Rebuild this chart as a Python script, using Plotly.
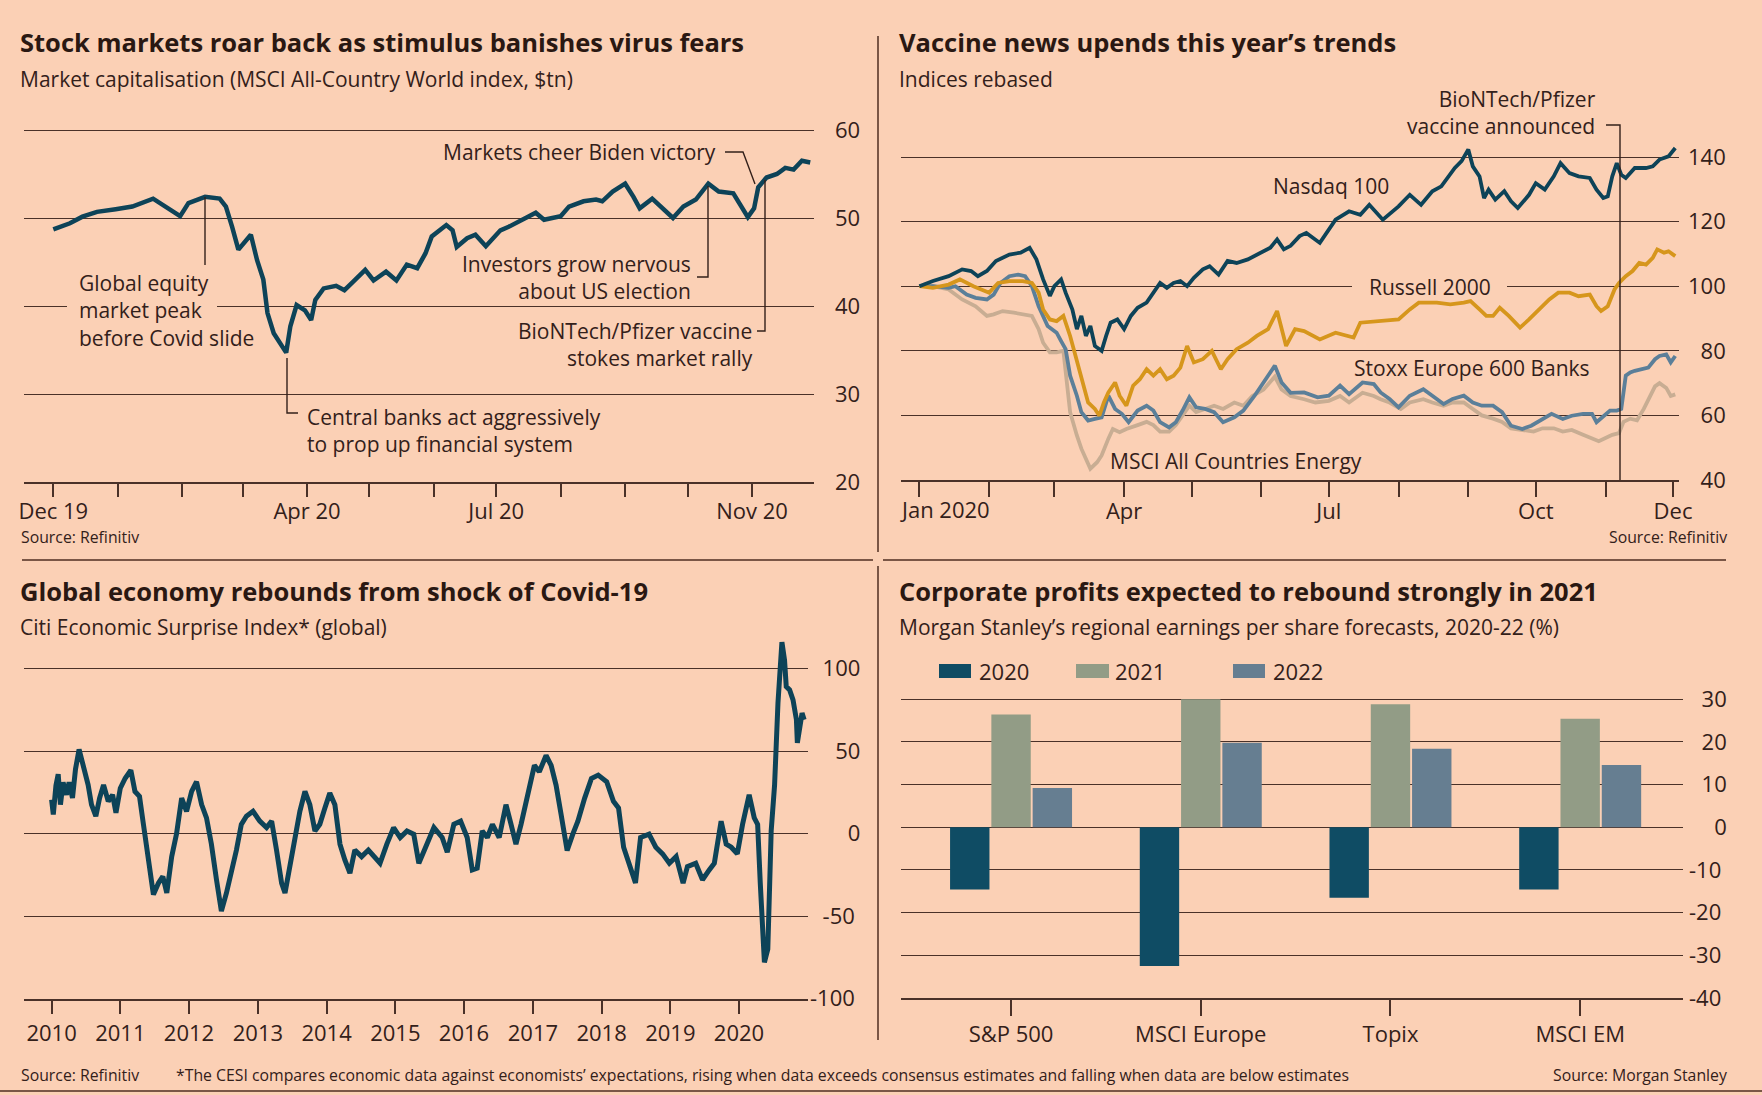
import pandas as pd
import plotly.graph_objects as go

W, H = 1762, 1095
BG = "#fbd0b5"
INK = "#33201a"
GRID = "#4a3128"
RULE = "#7a5646"
TEAL = "#0d4358"
GOLD = "#d6961c"
SLATE = "#5b7f99"
SAND = "#c8ad93"
FONT = "Open Sans"

# --- panel 1: MSCI ACWI market cap ($tn)
mkt_dates = [
    "2019-12-01", "2019-12-09", "2019-12-15", "2019-12-22", "2019-12-31",
    "2020-01-08", "2020-01-18", "2020-01-24", "2020-01-31",
    "2020-02-04", "2020-02-12", "2020-02-19", "2020-02-22", "2020-02-25", "2020-02-28",
    "2020-03-05", "2020-03-08", "2020-03-11", "2020-03-13", "2020-03-16", "2020-03-22",
    "2020-03-24", "2020-03-27", "2020-03-31",
    "2020-04-03", "2020-04-05", "2020-04-09", "2020-04-15", "2020-04-19", "2020-04-23", "2020-04-29",
    "2020-05-03", "2020-05-09", "2020-05-14", "2020-05-19", "2020-05-24", "2020-05-28", "2020-05-31",
    "2020-06-07", "2020-06-10", "2020-06-12", "2020-06-17", "2020-06-21", "2020-06-26",
    "2020-07-03", "2020-07-07", "2020-07-14", "2020-07-20", "2020-07-24",
    "2020-08-01", "2020-08-05", "2020-08-12", "2020-08-18", "2020-08-21", "2020-08-26",
    "2020-09-01", "2020-09-05", "2020-09-08", "2020-09-14", "2020-09-19", "2020-09-24", "2020-09-29",
    "2020-10-05", "2020-10-11", "2020-10-16", "2020-10-23", "2020-10-27", "2020-10-30",
    "2020-11-02", "2020-11-04", "2020-11-08", "2020-11-13", "2020-11-17", "2020-11-21",
    "2020-11-25", "2020-11-29",
]
mkt_cap = [
    48.7, 49.4, 50.15, 50.7, 51.0,
    51.3, 52.2, 51.3, 50.2,
    51.7, 52.4, 52.2, 51.3, 49.0, 46.4,
    48.1, 45.2, 43.0, 39.2, 36.9, 34.7,
    37.7, 40.1, 39.5,
    38.4, 40.7, 42.0, 42.3, 41.8, 42.7, 44.1,
    42.9, 43.9, 42.9, 44.7, 44.3, 46.0, 47.9,
    49.2, 48.6, 46.7, 47.7, 48.1, 46.8,
    48.6, 49.0, 49.8, 50.6, 49.8,
    50.2, 51.3, 51.9, 52.1, 51.9, 53.0,
    53.9, 52.4, 51.1, 52.2, 51.1, 50.0, 51.3,
    52.1, 53.9, 53.0, 52.8, 51.3, 50.1,
    51.1, 53.5, 54.6, 55.0, 55.7, 55.5,
    56.5, 56.3,
]
mkt_ticks = ["2019-12-01", "2020-01-01", "2020-02-01", "2020-03-01", "2020-04-01", "2020-05-01",
             "2020-06-01", "2020-07-01", "2020-08-01", "2020-09-01", "2020-10-01", "2020-11-01"]
mkt_tick_text = ["Dec 19", "", "", "", "Apr 20", "", "", "Jul 20", "", "", "", "Nov 20"]
mkt_y_ticks = [20, 30, 40, 50, 60]

# --- panel 2: indices rebased
nasdaq_dates = [
    "2020-01-01", "2020-01-07", "2020-01-14", "2020-01-20", "2020-01-24", "2020-01-27", "2020-01-31",
    "2020-02-04", "2020-02-10", "2020-02-15", "2020-02-19", "2020-02-22", "2020-02-25", "2020-02-28",
    "2020-03-01", "2020-03-04", "2020-03-06", "2020-03-09", "2020-03-11", "2020-03-13", "2020-03-15",
    "2020-03-17", "2020-03-19", "2020-03-22", "2020-03-24", "2020-03-26", "2020-03-29",
    "2020-04-01", "2020-04-04", "2020-04-07", "2020-04-11", "2020-04-14", "2020-04-17", "2020-04-20",
    "2020-04-23", "2020-04-26", "2020-04-29",
    "2020-05-02", "2020-05-06", "2020-05-09", "2020-05-13", "2020-05-17", "2020-05-21", "2020-05-26",
    "2020-05-30",
    "2020-06-05", "2020-06-08", "2020-06-11", "2020-06-14", "2020-06-18", "2020-06-21", "2020-06-27",
    "2020-07-04", "2020-07-10", "2020-07-15", "2020-07-19", "2020-07-25",
    "2020-08-01", "2020-08-06", "2020-08-11", "2020-08-16", "2020-08-20", "2020-08-26", "2020-08-29",
    "2020-09-01", "2020-09-03", "2020-09-06", "2020-09-08", "2020-09-10", "2020-09-13", "2020-09-17",
    "2020-09-20", "2020-09-23", "2020-09-28",
    "2020-10-01", "2020-10-05", "2020-10-09", "2020-10-12", "2020-10-16", "2020-10-20", "2020-10-25",
    "2020-10-28", "2020-10-31",
    "2020-11-02", "2020-11-04", "2020-11-06", "2020-11-08", "2020-11-10", "2020-11-14", "2020-11-19",
    "2020-11-22", "2020-11-25", "2020-11-29",
    "2020-12-02",
]
nasdaq = [
    100, 101.6, 103.1, 105.2, 104.7, 103.1, 104.7,
    107.8, 109.8, 110.4, 111.9, 108.3, 102.1, 97,
    100, 102.1, 98, 92.8, 86.7, 90.8, 84.6,
    87.7, 81.5, 80, 84.6, 88.7, 89.7,
    86.7, 90.8, 93.3, 94.9, 98, 101, 99.5,
    101, 101.6, 100,
    102.6, 105.2, 106.2, 103.6, 107.8, 107.2, 108.3,
    109.8,
    111.9, 114.5, 111.4, 112.5, 115.5, 116.5, 113.4,
    120.6, 123.2, 122.1, 125.2, 120.6,
    124.7, 128.3, 125.2, 129.4, 130.9, 136.6, 138.7,
    142.3, 137.1, 134, 127.3, 129.9, 126.8, 129.4,
    126.3, 124.2, 128.3,
    131.9, 129.9, 134, 138.1, 135, 134, 133.5,
    129.9, 127.3,
    127.8, 134, 138.1, 134.5, 133.5, 136.6, 136.6,
    137.1, 139.2, 140.2,
    142.8,
]

russell_dates = [
    "2020-01-01", "2020-01-07", "2020-01-14", "2020-01-19", "2020-01-25", "2020-01-29",
    "2020-02-01", "2020-02-05", "2020-02-10", "2020-02-16", "2020-02-20", "2020-02-23", "2020-02-25",
    "2020-02-28",
    "2020-03-02", "2020-03-05", "2020-03-08", "2020-03-10", "2020-03-12", "2020-03-14", "2020-03-16",
    "2020-03-19", "2020-03-21", "2020-03-23", "2020-03-25", "2020-03-28", "2020-03-30",
    "2020-04-02", "2020-04-05", "2020-04-08", "2020-04-11", "2020-04-14", "2020-04-17", "2020-04-20",
    "2020-04-23", "2020-04-26", "2020-04-29",
    "2020-05-02", "2020-05-06", "2020-05-10", "2020-05-14", "2020-05-17", "2020-05-21", "2020-05-26",
    "2020-05-30",
    "2020-06-04", "2020-06-08", "2020-06-12", "2020-06-16", "2020-06-20", "2020-06-27",
    "2020-07-04", "2020-07-12", "2020-07-15", "2020-07-22", "2020-07-28",
    "2020-08-01", "2020-08-06", "2020-08-10", "2020-08-18", "2020-08-24", "2020-08-30",
    "2020-09-02", "2020-09-06", "2020-09-09", "2020-09-12", "2020-09-15", "2020-09-19", "2020-09-24",
    "2020-09-28",
    "2020-10-02", "2020-10-07", "2020-10-11", "2020-10-16", "2020-10-20", "2020-10-25", "2020-10-28",
    "2020-10-30",
    "2020-11-02", "2020-11-05", "2020-11-07", "2020-11-10", "2020-11-13", "2020-11-16", "2020-11-19",
    "2020-11-22", "2020-11-24", "2020-11-27", "2020-11-29",
    "2020-12-02",
]
russell = [
    100, 99.5, 100.5, 102.1, 100, 99,
    98, 101, 101.6, 101.6, 101, 98, 92.8,
    89.7,
    89.2, 90.8, 84.6, 79.5, 74.3, 69.2, 64,
    62, 59.9, 64, 67.1, 70.2, 66.1,
    63, 69.2, 71.2, 74.3, 72.3, 74.3, 71.2,
    72.3, 74.8, 81.5,
    76.4, 77.4, 80, 74.3, 77.4, 80.5, 82.5,
    84.6,
    86.7, 92.3, 81.5, 86.7, 86.1, 83.5,
    85.6, 84.1, 88.7, 89.2, 89.7,
    89.7, 92.8, 94.9, 94.9, 94.4, 94.9,
    95.4, 92.8, 90.8, 90.8, 93.3, 90.8, 87.2,
    89.7,
    92.3, 95.9, 98, 98, 96.9, 97.4, 93.8,
    92.3,
    93.8, 99, 101, 103.1, 104.7, 107.2, 106.7,
    108.8, 111.4, 110.4, 110.8,
    109.3,
]

banks_dates = [
    "2020-01-01", "2020-01-07", "2020-01-14", "2020-01-17", "2020-01-22", "2020-01-26", "2020-01-31",
    "2020-02-03", "2020-02-06", "2020-02-10", "2020-02-14", "2020-02-17", "2020-02-20", "2020-02-23",
    "2020-02-27",
    "2020-03-02", "2020-03-04", "2020-03-06", "2020-03-08", "2020-03-11", "2020-03-13", "2020-03-16",
    "2020-03-19", "2020-03-22", "2020-03-25", "2020-03-28", "2020-03-31",
    "2020-04-03", "2020-04-07", "2020-04-11", "2020-04-14", "2020-04-17", "2020-04-21", "2020-04-24",
    "2020-04-27", "2020-04-30",
    "2020-05-03", "2020-05-07", "2020-05-11", "2020-05-15", "2020-05-20", "2020-05-24", "2020-05-29",
    "2020-06-02", "2020-06-07", "2020-06-10", "2020-06-14", "2020-06-20", "2020-06-26",
    "2020-07-01", "2020-07-06", "2020-07-10", "2020-07-16", "2020-07-21", "2020-07-24", "2020-07-28",
    "2020-08-01", "2020-08-06", "2020-08-12", "2020-08-16", "2020-08-21", "2020-08-25", "2020-08-30",
    "2020-09-03", "2020-09-07", "2020-09-12", "2020-09-16", "2020-09-20", "2020-09-25", "2020-09-29",
    "2020-10-04", "2020-10-08", "2020-10-13", "2020-10-17", "2020-10-22", "2020-10-26", "2020-10-28",
    "2020-10-31",
    "2020-11-03", "2020-11-06", "2020-11-08", "2020-11-10", "2020-11-12", "2020-11-14", "2020-11-17",
    "2020-11-20", "2020-11-23", "2020-11-25", "2020-11-28", "2020-11-30",
    "2020-12-02",
]
banks = [
    100, 100, 99.5, 100, 97.4, 96.4, 95.9,
    97.4, 101, 103.1, 103.6, 103.1, 100, 93.8,
    87.7,
    85.6, 83, 80.5, 72.3, 66.1, 61, 58.4,
    58.9, 59.4, 66.1, 62, 60.5,
    57.9, 61.5, 63, 61.5, 57.9, 56.3, 57.9,
    61.5, 65.6,
    62.5, 62, 61, 57.9, 59.4, 61.5, 66.1,
    70.2, 75.4, 70.2, 67, 67.1, 65.6,
    66.1, 69.2, 66.6, 70.2, 69.7, 67.1, 65.1,
    62.5, 66.1, 68.1, 66.1, 63.5, 65.1, 66.1,
    64, 63, 63, 61, 56.8, 55.8, 56.8,
    58.9, 60.5, 58.9, 59.9, 60.5, 60.5, 57.9,
    59.9,
    61.5, 61.5, 62, 72.3, 73.3, 73.8, 74.3,
    74.8, 77.4, 78.4, 78.9, 76.4,
    78.4,
]

energy_dates = [
    "2020-01-01", "2020-01-07", "2020-01-14", "2020-01-20", "2020-01-26", "2020-01-31",
    "2020-02-03", "2020-02-07", "2020-02-12", "2020-02-16", "2020-02-20", "2020-02-23", "2020-02-25",
    "2020-02-28",
    "2020-03-02", "2020-03-05", "2020-03-06", "2020-03-08", "2020-03-11", "2020-03-13", "2020-03-15",
    "2020-03-17", "2020-03-20", "2020-03-22", "2020-03-25", "2020-03-27", "2020-03-30",
    "2020-04-02", "2020-04-07", "2020-04-11", "2020-04-14", "2020-04-17", "2020-04-21", "2020-04-24",
    "2020-04-27", "2020-04-30",
    "2020-05-03", "2020-05-07", "2020-05-11", "2020-05-15", "2020-05-20", "2020-05-24", "2020-05-28",
    "2020-06-02", "2020-06-07", "2020-06-10", "2020-06-14", "2020-06-20", "2020-06-25",
    "2020-07-01", "2020-07-06", "2020-07-10", "2020-07-16", "2020-07-21", "2020-07-24", "2020-07-28",
    "2020-08-02", "2020-08-06", "2020-08-12", "2020-08-16", "2020-08-21", "2020-08-25", "2020-08-30",
    "2020-09-03", "2020-09-07", "2020-09-12", "2020-09-16", "2020-09-20", "2020-09-25", "2020-09-30",
    "2020-10-04", "2020-10-09", "2020-10-13", "2020-10-17", "2020-10-22", "2020-10-26", "2020-10-29",
    "2020-11-01", "2020-11-04", "2020-11-07", "2020-11-09", "2020-11-12", "2020-11-15", "2020-11-18",
    "2020-11-21", "2020-11-23", "2020-11-25", "2020-11-28", "2020-11-30",
    "2020-12-02",
]
energy = [
    100, 100, 99, 95.9, 93.8, 90.8,
    91.3, 92.3, 91.8, 91.3, 90.8, 86.7, 82.5,
    79.5,
    79.5, 80, 74.3, 61, 53.8, 49.7, 46.6,
    43.5, 45.5, 47.6, 52.8, 55.8, 54.8,
    55.8, 57, 58, 57, 55, 55, 57,
    60, 63,
    61, 62, 63, 62, 64, 63, 66,
    68, 72, 68, 66, 65, 64,
    64.5, 66, 64, 67, 66, 65, 64,
    62, 64, 65, 64, 63, 64, 64,
    62, 60, 59, 58, 56, 55.5, 55,
    56, 56, 55, 55.5, 54, 53, 52,
    53, 54, 54.5, 58, 59, 58.5, 62,
    66, 69, 70, 68.5, 66,
    66.5,
]
idx_ticks = ["2020-01-01", "2020-02-01", "2020-03-01", "2020-04-01", "2020-05-01", "2020-06-01",
             "2020-07-01", "2020-08-01", "2020-09-01", "2020-10-01", "2020-11-01", "2020-12-01"]
idx_tick_text = ["", "", "", "Apr", "", "", "Jul", "", "", "Oct", "", "Dec"]
idx_y_ticks = [40, 60, 80, 100, 120, 140]

# --- panel 3: Citi Economic Surprise Index (global)
cesi_dates = [
    "2010-01-01", "2010-01-10", "2010-01-24", "2010-02-05", "2010-02-17", "2010-03-03", "2010-03-21",
    "2010-04-04", "2010-04-22", "2010-05-08", "2010-05-27", "2010-06-18", "2010-07-14", "2010-08-01",
    "2010-08-24", "2010-09-13", "2010-10-04", "2010-10-29", "2010-11-21", "2010-12-09",
    "2011-01-01", "2011-01-27", "2011-02-26", "2011-03-20", "2011-04-13", "2011-05-04", "2011-05-22",
    "2011-06-12", "2011-06-26", "2011-07-23", "2011-08-15", "2011-09-05", "2011-10-01", "2011-10-27",
    "2011-11-23", "2011-12-19",
    "2012-01-15", "2012-02-10", "2012-03-08", "2012-04-03", "2012-04-29", "2012-05-26", "2012-06-21",
    "2012-07-18", "2012-08-13", "2012-09-09", "2012-10-05", "2012-11-01", "2012-12-06",
    "2013-01-11", "2013-02-16", "2013-03-15", "2013-04-10", "2013-05-07", "2013-05-25", "2013-06-20",
    "2013-07-17", "2013-08-12", "2013-09-08", "2013-10-04", "2013-10-31", "2013-11-26", "2013-12-23",
    "2014-01-18", "2014-02-14", "2014-03-13", "2014-04-08", "2014-05-05", "2014-05-31", "2014-07-06",
    "2014-08-11", "2014-09-07", "2014-10-12", "2014-11-17", "2014-12-23",
    "2015-01-27", "2015-03-04", "2015-04-09", "2015-05-06", "2015-06-11", "2015-07-25", "2015-09-07",
    "2015-10-04", "2015-11-08", "2015-12-14",
    "2016-01-18", "2016-02-14", "2016-03-11", "2016-04-07", "2016-05-04", "2016-05-31", "2016-07-06",
    "2016-08-11", "2016-09-07", "2016-10-03", "2016-10-30", "2016-12-05",
    "2017-01-09", "2017-02-04", "2017-03-12", "2017-04-08", "2017-05-04", "2017-05-31", "2017-07-02",
    "2017-08-01", "2017-08-28", "2017-10-03", "2017-11-08", "2017-12-14",
    "2018-01-28", "2018-03-05", "2018-04-01", "2018-04-28", "2018-06-03", "2018-06-30", "2018-07-27",
    "2018-09-10", "2018-10-16", "2018-11-21", "2018-12-27",
    "2019-02-01", "2019-03-10", "2019-04-02", "2019-05-16", "2019-06-21", "2019-07-27", "2019-08-23",
    "2019-09-28", "2019-10-25", "2019-11-21", "2019-12-23",
    "2020-01-20", "2020-02-24", "2020-03-22", "2020-04-09", "2020-04-23", "2020-05-06", "2020-05-15",
    "2020-06-02", "2020-06-11", "2020-06-20", "2020-07-08", "2020-07-26", "2020-08-16", "2020-08-30",
    "2020-09-08", "2020-09-26", "2020-10-14", "2020-11-01", "2020-11-06", "2020-11-18", "2020-12-01",
    "2020-12-12",
]
cesi = [
    20.5, 11.5, 29, 36, 17.5, 31, 23.5,
    31, 21.5, 39, 51, 41, 29.5, 17.5,
    10.5, 21.5, 29.5, 19.5, 23.5, 12.5,
    27.5, 33.5, 38.4, 25.5, 22.5, 5.5, -8.3,
    -28, -37, -30, -26, -36, -14, 0,
    21.5, 13.5,
    25.5, 31.4, 17.5, 9.5, -6.4, -28, -47,
    -36, -24, -10, 5.6, 10.5, 13.5,
    7.5, 3.6, 7.5, -10, -30, -36, -20,
    -4.4, 13.5, 25.5, 17.5, 1.6, 5.6, 15.5,
    24.5, 17.5, -6.4, -16, -24, -10, -14,
    -10, -14, -18, -6.4, 3.6,
    -2.4, 1.6, -0.4, -18, -8.3, 3.6, -2.4,
    -11.3, 5.6, 7.5,
    -2.4, -22, -21, 1.6, -2.4, 5.6, -2.4,
    17.5, 5.6, -6.4, 5.6, 23.5,
    41.3, 37.4, 47.3, 41.3, 29.4, 11.5, -10.3,
    -0.4, 7.5, 21.5, 33.4, 35.4,
    31.4, 19.5, 15.5, -8.3, -22, -30, -2.4,
    -0.4, -8.3, -12.3, -18,
    -14, -30, -20, -18, -28, -22, -18,
    7.5, -6.4, -8.3, -12.3,
    5.6, 23.5, 9.5, 5.6, -30, -60, -78,
    -70, -40, 1.6, 29.4, 79, 116, 105,
    89, 87, 81, 69, 55, 65, 73,
    69,
]
cesi_ticks = [f"{y}-01-01" for y in range(2010, 2021)]
cesi_tick_text = [str(y) for y in range(2010, 2021)]
cesi_y_ticks = [-100, -50, 0, 50, 100]

# --- panel 4: EPS forecasts (%)
regions = ["S&P 500", "MSCI Europe", "Topix", "MSCI EM"]
eps_2020 = [-14.6, -32.5, -16.5, -14.6]
eps_2021 = [26.4, 30.0, 28.8, 25.4]
eps_2022 = [9.2, 19.8, 18.4, 14.6]
eps_y_ticks = [-40, -30, -20, -10, 0, 10, 20, 30]

for a, b in [(mkt_dates, mkt_cap), (nasdaq_dates, nasdaq), (russell_dates, russell),
             (banks_dates, banks), (energy_dates, energy), (cesi_dates, cesi)]:
    assert len(a) == len(b), (len(a), len(b))


def px(x):
    return x / W


def py(y):
    return 1 - y / H


def ydomain(r0, r1, va, pa, vb, pb):
    s = (pb - pa) / (vb - va)
    return [py(pa + (r0 - va) * s), py(pa + (r1 - va) * s)]


def xdates(p0, p1, da, pa, db, pb):
    ta, tb = pd.Timestamp(da), pd.Timestamp(db)
    step = (tb - ta) / (pb - pa)
    return [str(ta + (p0 - pa) * step), str(ta + (p1 - pa) * step)]


def padded(vals):
    labels = [str(v) for v in vals]
    n = max(len(s) for s in labels)
    return ["\u2007" * (n - len(s)) + s for s in labels]


fig = go.Figure()

fig.add_trace(go.Scatter(x=mkt_dates, y=mkt_cap, mode="lines", xaxis="x", yaxis="y",
                         line=dict(color=TEAL, width=4.5)))

for d, v, c in [(energy_dates, energy, SAND), (banks_dates, banks, SLATE),
                (russell_dates, russell, GOLD), (nasdaq_dates, nasdaq, TEAL)]:
    fig.add_trace(go.Scatter(x=d, y=v, mode="lines", xaxis="x2", yaxis="y2",
                             line=dict(color=c, width=3.8)))

fig.add_trace(go.Scatter(x=cesi_dates, y=cesi, mode="lines", xaxis="x3", yaxis="y3",
                         line=dict(color=TEAL, width=5)))

for vals, c in [(eps_2020, "#0f4c64"), (eps_2021, "#929c86"), (eps_2022, "#667e91")]:
    fig.add_trace(go.Bar(x=regions, y=vals, xaxis="x4", yaxis="y4", marker=dict(color=c, line=dict(width=0))))

TICK = 22
tickfont = dict(family=FONT, size=TICK, color=INK)
xbase = dict(showgrid=False, zeroline=False, showline=True, linecolor=GRID, linewidth=1.5,
             ticks="outside", tickcolor=GRID, tickwidth=1.5, tickfont=tickfont, automargin=False)
ybase = dict(showgrid=True, gridcolor=GRID, gridwidth=1.3, zeroline=False, showline=False,
             ticks="", side="right", tickfont=tickfont, tickmode="array", automargin=False)

fig.update_layout(
    template="none",
    width=W, height=H, autosize=False, margin=dict(l=0, r=0, t=0, b=0, pad=0, autoexpand=False),
    paper_bgcolor=BG, plot_bgcolor=BG, showlegend=False,
    barmode="group", bargap=0.347, bargroupgap=0.046,
    xaxis=dict(xbase, domain=[px(24), px(814)], anchor="y", type="date",
               range=xdates(24, 814, "2019-12-01", 53.3, "2020-11-01", 752),
               tickmode="array", tickvals=mkt_ticks, ticktext=mkt_tick_text, ticklen=13,
               ticklabelstandoff=-4),
    yaxis=dict(ybase, domain=ydomain(20, 60.2, 20, 482, 60, 130), anchor="x", range=[20, 60.2],
               tickvals=mkt_y_ticks, ticktext=padded(mkt_y_ticks), ticklabelstandoff=20),
    xaxis2=dict(xbase, domain=[px(901), px(1679)], anchor="y2", type="date",
                range=xdates(901, 1679, "2020-01-01", 919.4, "2020-12-01", 1673),
                tickmode="array", tickvals=idx_ticks, ticktext=idx_tick_text, ticklen=15,
                ticklabelstandoff=-4),
    yaxis2=dict(ybase, domain=ydomain(40, 145.2, 40, 480, 140, 157), anchor="x2", range=[40, 145.2],
                tickvals=idx_y_ticks, ticktext=padded(idx_y_ticks), ticklabelstandoff=8),
    xaxis3=dict(xbase, domain=[px(23.6), px(808)], anchor="y3", type="date",
                range=xdates(23.6, 808, "2010-01-01", 51.6, "2020-01-01", 739),
                tickmode="array", tickvals=cesi_ticks, ticktext=cesi_tick_text, ticklen=14),
    yaxis3=dict(ybase, domain=ydomain(-100, 119.5, -100, 998.6, 100, 668.5), anchor="x3",
                range=[-100, 119.5], tickvals=cesi_y_ticks, ticktext=padded(cesi_y_ticks),
                ticklabelstandoff=1),
    xaxis4=dict(xbase, domain=[px(901.4), px(1683)], anchor="y4", type="category",
                range=[-0.578, 3.542], ticklen=16),
    yaxis4=dict(ybase, domain=ydomain(-40, 30.3, -40, 998, 30, 699.2), anchor="x4",
                range=[-40, 30.3], tickvals=eps_y_ticks, ticktext=padded(eps_y_ticks),
                ticklabelstandoff=5),
)


def txt(x, y, s, size=20, anchor="left", color=INK):
    return dict(xref="paper", yref="paper", x=px(x), y=py(y), text=s, showarrow=False,
                xanchor=anchor, yanchor="middle", align=anchor, borderpad=0, borderwidth=0,
                font=dict(family=FONT, size=size, color=color))


TITLE = 25.5
SUB = 21
NOTE = 21
SRC = 15.8
HEAD = "#2a1812"

ann = [
    # panel 1
    txt(20, 42, "<b>Stock markets roar back as stimulus banishes virus fears</b>", TITLE, color=HEAD),
    txt(20, 79, "Market capitalisation (MSCI All-Country World index, $tn)", SUB),
    txt(21, 537, "Source: Refinitiv", SRC),
    txt(79, 310, "Global equity<br>market peak<br>before Covid slide", NOTE),
    txt(307, 430, "Central banks act aggressively<br>to prop up financial system", NOTE),
    txt(716, 152, "Markets cheer Biden victory", NOTE, "right"),
    txt(691, 277, "Investors grow nervous<br>about US election", NOTE, "right"),
    txt(753, 345, "BioNTech/Pfizer vaccine<br>stokes market rally", NOTE, "right"),
    # panel 2
    txt(899, 42, "<b>Vaccine news upends this year’s trends</b>", TITLE, color=HEAD),
    txt(899, 79, "Indices rebased", SUB),
    txt(1727, 537, "Source: Refinitiv", SRC, "right"),
    txt(900, 509, "Jan 2020", TICK),
    txt(1596, 113, "BioNTech/Pfizer<br>vaccine announced", NOTE, "right"),
    txt(1273, 186, "Nasdaq 100", NOTE),
    txt(1430, 287, "Russell 2000", NOTE, "center"),
    txt(1354, 368, "Stoxx Europe 600 Banks", NOTE),
    txt(1110, 461, "MSCI All Countries Energy", NOTE),
    # panel 3
    txt(20, 591, "<b>Global economy rebounds from shock of Covid-19</b>", TITLE, color=HEAD),
    txt(20, 627, "Citi Economic Surprise Index* (global)", SUB),
    txt(21, 1075, "Source: Refinitiv", SRC),
    txt(176, 1075, "*The CESI compares economic data against economists’ expectations, rising when data "
                   "exceeds consensus estimates and falling when data are below estimates", SRC),
    # panel 4
    txt(899, 591, "<b>Corporate profits expected to rebound strongly in 2021</b>", TITLE, color=HEAD),
    txt(899, 627, "Morgan Stanley’s regional earnings per share forecasts, 2020-22 (%)", SUB),
    txt(1727, 1075, "Source: Morgan Stanley", SRC, "right"),
    txt(979, 671, "2020", TICK),
    txt(1115, 671, "2021", TICK),
    txt(1273, 671, "2022", TICK),
]
fig.update_layout(annotations=ann)


def path(points, color=INK, width=1.4):
    d = "M " + " L ".join(f"{px(x)},{py(y)}" for x, y in points)
    return dict(type="path", xref="paper", yref="paper", path=d, line=dict(color=color, width=width))


def box(x0, y0, x1, y1, color):
    return dict(type="rect", xref="paper", yref="paper", x0=px(x0), x1=px(x1), y0=py(y1), y1=py(y0),
                fillcolor=color, line=dict(width=0))


shapes = [
    # gaps in the gridlines behind labels
    box(67, 303.5, 217, 309.5, BG),
    box(1352, 283.5, 1507, 289.5, BG),
    # leader lines
    path([(205, 197), (205, 265)]),
    path([(287, 358), (287, 413), (298, 413)]),
    path([(725, 152), (743, 152), (755, 184)]),
    path([(708, 186), (708, 277), (697, 277)]),
    path([(765, 180), (765, 331), (757, 331)]),
    path([(1606, 125), (1620, 125), (1620, 480)]),
    # legend keys
    box(939, 664, 971, 678, "#0f4c64"),
    box(1076, 664, 1109, 678, "#929c86"),
    box(1233, 664, 1265, 678, "#667e91"),
    # panel rules
    path([(22, 560), (873, 560)], RULE, 2),
    path([(883, 560), (1726, 560)], RULE, 2),
    path([(878, 36), (878, 552)], RULE, 2),
    path([(878, 566), (878, 1040)], RULE, 2),
    path([(0, 1091), (W, 1091)], RULE, 2),
]
fig.update_layout(shapes=shapes)

# pin the figure to the top-left corner of the page so it fills the window exactly
pin = ("document.body.style.margin='0';document.body.style.overflow='hidden';"
       "var gd=document.getElementById('{plot_id}');gd.style.position='fixed';"
       "gd.style.left='0px';gd.style.top='0px';")
fig.write_html("out.html", post_script=pin, config={"displayModeBar": False})
